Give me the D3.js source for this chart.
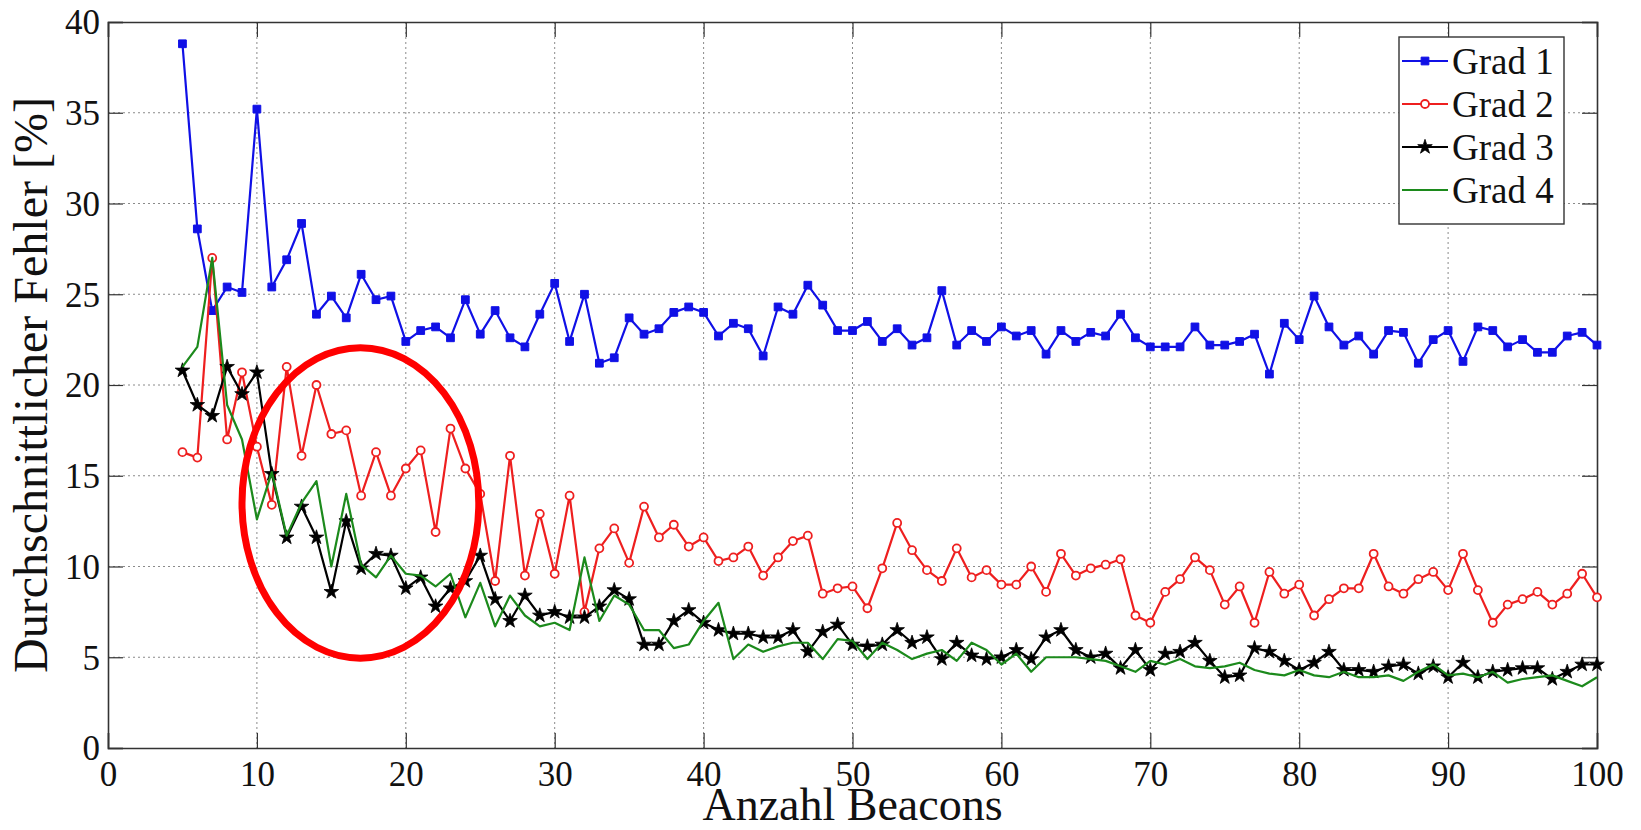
<!DOCTYPE html>
<html>
<head>
<meta charset="utf-8">
<script src="https://cdn.jsdelivr.net/npm/d3@7"></script>
<style>
  html, body { margin: 0; padding: 0; background: #fff; }
  svg { display: block; }
  svg text { font-family: "Liberation Serif", "Times New Roman", "DejaVu Serif", serif !important; fill: #111; }
</style>
</head>
<body>
<svg id="chart" width="1641" height="830"></svg>
<script>
// ---------- data ----------
const beacons = [5,6,7,8,9,10,11,12,13,14,15,16,17,18,19,20,21,22,23,24,25,26,27,28,29,30,31,32,33,34,35,36,37,38,39,40,41,42,43,44,45,46,47,48,49,50,51,52,53,54,55,56,57,58,59,60,61,62,63,64,65,66,67,68,69,70,71,72,73,74,75,76,77,78,79,80,81,82,83,84,85,86,87,88,89,90,91,92,93,94,95,96,97,98,99,100];

const grad1 = [38.8, 28.6, 24.1, 25.4, 25.1, 35.2, 25.4, 26.9, 28.9, 23.9,
  24.9, 23.7, 26.1, 24.7, 24.9, 22.4, 23.0, 23.2, 22.6, 24.7,
  22.8, 24.1, 22.6, 22.1, 23.9, 25.6, 22.4, 25.0, 21.2, 21.5,
  23.7, 22.8, 23.1, 24.0, 24.3, 24.0, 22.7, 23.4, 23.1, 21.6,
  24.3, 23.9, 25.5, 24.4, 23.0, 23.0, 23.5, 22.4, 23.1, 22.2,
  22.6, 25.2, 22.2, 23.0, 22.4, 23.2, 22.7, 23.0, 21.7, 23.0,
  22.4, 22.9, 22.7, 23.9, 22.6, 22.1, 22.1, 22.1, 23.2, 22.2,
  22.2, 22.4, 22.8, 20.6, 23.4, 22.5, 24.9, 23.2, 22.2, 22.7,
  21.7, 23.0, 22.9, 21.2, 22.5, 23.0, 21.3, 23.2, 23.0, 22.1,
  22.5, 21.8, 21.8, 22.7, 22.9, 22.2];

const grad2 = [16.3, 16.0, 27.0, 17.0, 20.7, 16.6, 13.4, 21.0, 16.1, 20.0,
  17.3, 17.5, 13.9, 16.3, 13.9, 15.4, 16.4, 11.9, 17.6, 15.4,
  14.0, 9.2, 16.1, 9.5, 12.9, 9.6, 13.9, 7.5, 11.0, 12.1,
  10.2, 13.3, 11.6, 12.3, 11.1, 11.6, 10.3, 10.5, 11.1, 9.5,
  10.5, 11.4, 11.7, 8.5, 8.8, 8.9, 7.7, 9.9, 12.4, 10.9,
  9.8, 9.2, 11.0, 9.4, 9.8, 9.0, 9.0, 10.0, 8.6, 10.7,
  9.5, 9.9, 10.1, 10.4, 7.3, 6.9, 8.6, 9.3, 10.5, 9.8,
  7.9, 8.9, 6.9, 9.7, 8.5, 9.0, 7.3, 8.2, 8.8, 8.8,
  10.7, 8.9, 8.5, 9.3, 9.7, 8.7, 10.7, 8.7, 6.9, 7.9,
  8.2, 8.6, 7.9, 8.5, 9.6, 8.3];

const grad3 = [20.8, 18.9, 18.3, 21.0, 19.5, 20.7, 15.1, 11.6, 13.3, 11.6,
  8.6, 12.5, 9.9, 10.7, 10.6, 8.8, 9.4, 7.8, 8.8, 9.2,
  10.6, 8.2, 7.0, 8.4, 7.3, 7.5, 7.2, 7.2, 7.8, 8.7,
  8.2, 5.7, 5.7, 7.0, 7.6, 6.9, 6.5, 6.3, 6.3, 6.1,
  6.1, 6.5, 5.3, 6.4, 6.8, 5.7, 5.6, 5.7, 6.5, 5.8,
  6.1, 4.9, 5.8, 5.1, 4.9, 5.0, 5.4, 4.9, 6.1, 6.5,
  5.4, 5.0, 5.2, 4.4, 5.4, 4.3, 5.2, 5.3, 5.8, 4.8,
  3.9, 4.0, 5.5, 5.3, 4.8, 4.3, 4.7, 5.3, 4.3, 4.3,
  4.2, 4.5, 4.6, 4.1, 4.5, 3.9, 4.7, 3.9, 4.2, 4.3,
  4.4, 4.4, 3.8, 4.2, 4.6, 4.6];

const grad4 = [21.0, 22.1, 27.0, 18.9, 17.0, 12.6, 15.2, 11.7, 13.5, 14.7,
  10.0, 14.0, 10.1, 9.4, 10.6, 9.6, 9.5, 8.9, 9.6, 7.2,
  9.1, 6.7, 8.4, 7.3, 6.7, 6.9, 6.5, 10.5, 7.0, 8.4,
  7.9, 6.5, 6.5, 5.5, 5.7, 7.0, 8.0, 4.9, 5.7, 5.3,
  5.6, 5.8, 5.8, 4.9, 6.0, 5.9, 4.9, 5.8, 5.4, 4.9,
  5.2, 5.4, 4.8, 5.8, 5.4, 4.6, 5.2, 4.2, 5.0, 5.0,
  5.0, 4.9, 4.8, 4.5, 4.2, 4.8, 4.6, 4.9, 4.5, 4.4,
  4.5, 4.7, 4.3, 4.1, 4.0, 4.3, 4.0, 3.9, 4.2, 3.9,
  3.9, 4.0, 3.7, 4.2, 4.6, 4.0, 4.1, 3.9, 4.2, 3.6,
  3.8, 3.9, 4.0, 3.7, 3.4, 3.9];

const seriesNames = ["Grad 1", "Grad 2", "Grad 3", "Grad 4"];
const xTicks = [0, 10, 20, 30, 40, 50, 60, 70, 80, 90, 100];
const yTicks = [0, 5, 10, 15, 20, 25, 30, 35, 40];
const xLabel = "Anzahl Beacons";
const yLabel = "Durchschnittlicher Fehler [%]";
// highlight ellipse annotation in data units: centre x, centre y, half-width, half-height
const highlight = [16.95, 13.5, 7.95, 8.55];

// ---------- styles ----------
const colors = ["#1010e6", "#ee1f1f", "#000000", "#1c8a1c"];
const markers = ["square", "circle", "star", "none"];
const FONT = "'Liberation Serif', 'Times New Roman', 'DejaVu Serif', serif";

// ---------- layout ----------
const W = 1641, H = 830;
const M = { left: 108, right: 1597, top: 22, bottom: 748 };

const svg = d3.select("#chart");
svg.append("rect").attr("width", W).attr("height", H).attr("fill", "#fff");

const x = d3.scaleLinear().domain([0, 100]).range([M.left, M.right]);
const y = d3.scaleLinear().domain([0, 40]).range([M.bottom, M.top]);

// grid
const grid = svg.append("g");
grid.selectAll("line.gx").data(xTicks.slice(1, -1)).join("line")
  .attr("x1", d => x(d)).attr("x2", d => x(d))
  .attr("y1", M.top).attr("y2", M.bottom)
  .attr("stroke", "#8a8a8a").attr("stroke-width", 1).attr("stroke-dasharray", "2,3");
grid.selectAll("line.gy").data(yTicks.slice(1, -1)).join("line")
  .attr("y1", d => y(d)).attr("y2", d => y(d))
  .attr("x1", M.left).attr("x2", M.right)
  .attr("stroke", "#8a8a8a").attr("stroke-width", 1).attr("stroke-dasharray", "2,3");

// axes (ticks inward, MATLAB style box)
const tickLen = 15;
const xAxisB = d3.axisBottom(x).tickValues(xTicks).tickSize(-tickLen).tickPadding(13);
const xAxisT = d3.axisTop(x).tickValues(xTicks).tickSize(-tickLen).tickFormat("");
const yAxisL = d3.axisLeft(y).tickValues(yTicks).tickSize(-tickLen).tickPadding(8);
const yAxisR = d3.axisRight(y).tickValues(yTicks).tickSize(-tickLen).tickFormat("");

function styleAxis(g) {
  g.attr("font-family", null);
  g.select(".domain").attr("stroke", "#333").attr("stroke-width", 1.6);
  g.selectAll(".tick line").attr("stroke", "#333").attr("stroke-width", 1.2);
  g.selectAll(".tick text").style("font-family", FONT).attr("fill", "#111");
}

const gxb = svg.append("g").attr("transform", `translate(0,${M.bottom})`).call(xAxisB).call(styleAxis);
gxb.selectAll(".tick text").attr("font-size", 35).attr("dy", "0.71em");
svg.append("g").attr("transform", `translate(0,${M.top})`).call(xAxisT).call(styleAxis);
const gyl = svg.append("g").attr("transform", `translate(${M.left},0)`).call(yAxisL).call(styleAxis);
gyl.selectAll(".tick text").attr("font-size", 35).attr("dy", "0.34em");
svg.append("g").attr("transform", `translate(${M.right},0)`).call(yAxisR).call(styleAxis);

// axis titles
svg.append("text")
  .attr("x", (M.left + M.right) / 2).attr("y", 820)
  .attr("text-anchor", "middle").attr("font-size", 46).style("font-family", FONT)
  .text(xLabel);
svg.append("text")
  .attr("transform", `translate(47,${(M.top + M.bottom) / 2}) rotate(-90)`)
  .attr("text-anchor", "middle").attr("font-size", 48).style("font-family", FONT)
  .text(yLabel);

// series
const allSeries = [grad1, grad2, grad3, grad4];
const line = d3.line().x((d, i) => x(beacons[i])).y(d => y(d));

function drawMarker(sel, kind, color) {
  if (kind === "square") {
    sel.append("path").attr("d", d3.symbol(d3.symbolSquare, 60)())
      .attr("fill", color).attr("stroke", color).attr("stroke-width", 1);
  } else if (kind === "circle") {
    sel.append("circle").attr("r", 4)
      .attr("fill", "#fff").attr("stroke", color).attr("stroke-width", 1.8);
  } else if (kind === "star") {
    sel.append("path").attr("d", d3.symbol(d3.symbolStar, 66)())
      .attr("fill", color).attr("stroke", color).attr("stroke-width", 0.8);
  }
}

allSeries.forEach((vals, si) => {
  const g = svg.append("g");
  g.append("path").datum(vals).attr("d", line)
    .attr("fill", "none").attr("stroke", colors[si]).attr("stroke-width", 2.2)
    .attr("stroke-linejoin", "round");
  if (markers[si] !== "none") {
    const mk = g.selectAll("g.m").data(vals).join("g")
      .attr("transform", (d, i) => `translate(${x(beacons[i])},${y(d)})`);
    mk.each(function () { drawMarker(d3.select(this), markers[si], colors[si]); });
  }
});

// red highlight ellipse
const [hcx, hcy, hrx, hry] = highlight;
svg.append("ellipse")
  .attr("cx", x(hcx)).attr("cy", y(hcy))
  .attr("rx", x(hcx + hrx) - x(hcx)).attr("ry", y(hcy) - y(hcy + hry))
  .attr("fill", "none").attr("stroke", "#ff0000").attr("stroke-width", 7);

// legend
const LG = { x: 1399, y: 37, w: 165, h: 187, row: 43, first: 61 };
const lg = svg.append("g");
lg.append("rect").attr("x", LG.x).attr("y", LG.y).attr("width", LG.w).attr("height", LG.h)
  .attr("fill", "#fff").attr("stroke", "#333").attr("stroke-width", 1.4);
seriesNames.forEach((name, si) => {
  const cy = LG.first + si * LG.row;
  lg.append("line").attr("x1", LG.x + 3).attr("x2", LG.x + 49).attr("y1", cy).attr("y2", cy)
    .attr("stroke", colors[si]).attr("stroke-width", 2.2);
  if (markers[si] !== "none") {
    const mg = lg.append("g").attr("transform", `translate(${LG.x + 26},${cy})`);
    drawMarker(mg, markers[si], colors[si]);
  }
  lg.append("text").attr("x", LG.x + 53).attr("y", cy).attr("dy", "0.35em")
    .attr("font-size", 37).style("font-family", FONT).text(name);
});
</script>
</body>
</html>
